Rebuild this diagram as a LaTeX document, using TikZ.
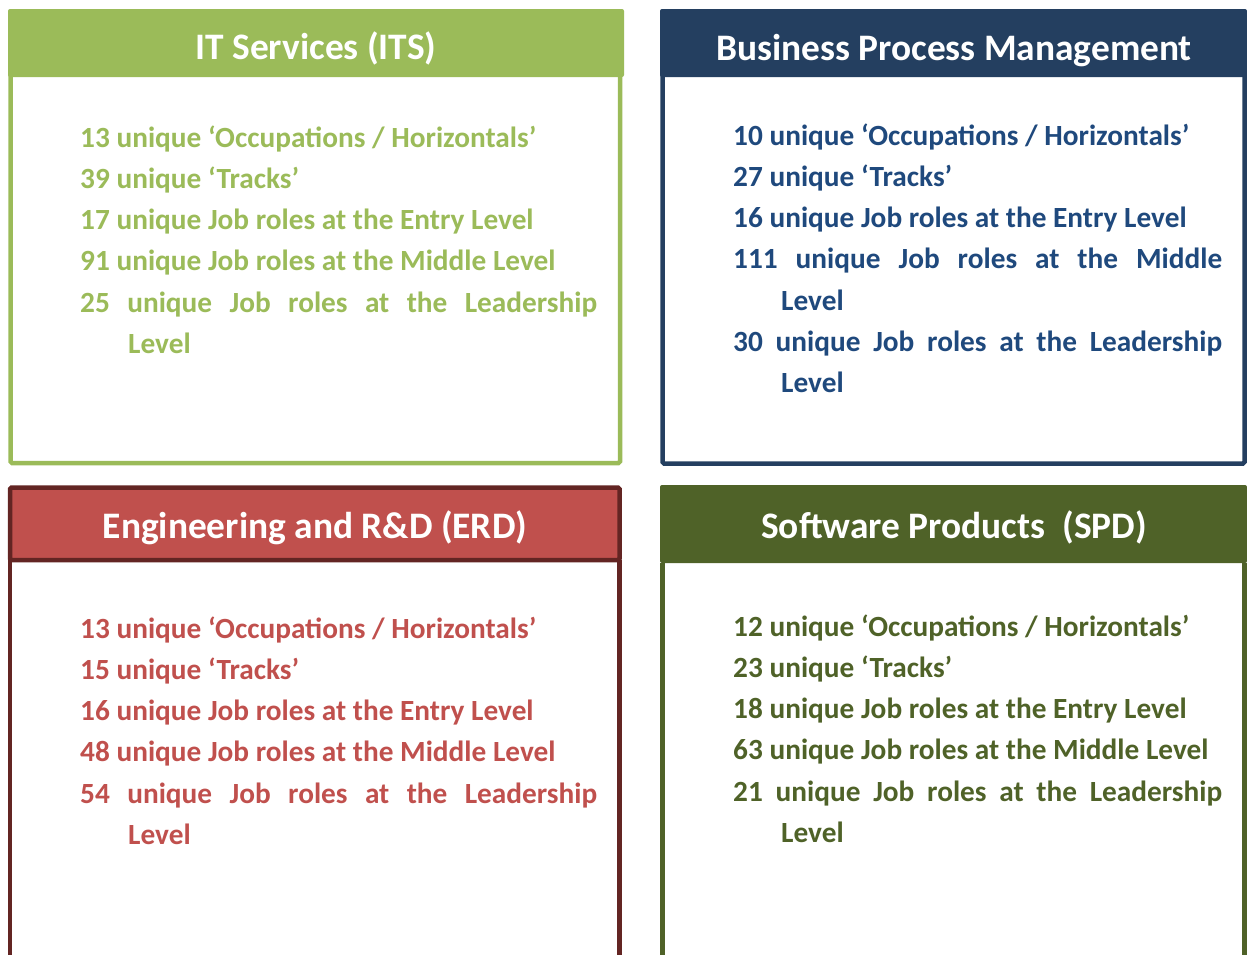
\documentclass[tikz,border=0pt]{standalone}
\usepackage{fontspec}
\setmainfont{Carlito}
\usetikzlibrary{positioning}

\definecolor{itsgreen}{HTML}{9BBB59}
\definecolor{bpmblue}{HTML}{243F60}
\definecolor{bpmtext}{HTML}{1F497D}
\definecolor{erdred}{HTML}{C0504D}
\definecolor{erddark}{HTML}{632523}
\definecolor{spdolive}{HTML}{4F6228}

\tolerance=10000
\newcommand\roleline[1]{\hangindent=48pt\hangafter=1 #1\par}

\begin{document}
\begin{tikzpicture}[x=1pt,y=-1pt,
	head/.style={font=\bfseries\fontsize{37.4}{45}\selectfont, text=white, anchor=base, inner sep=0pt},
	facts/.style={font=\bfseries\fontsize{29.3}{41.3}\selectfont, anchor=base west, inner sep=0pt, align=justify},
	frame/.style={line width=4.5pt, rounded corners=1.5pt}]
	\useasboundingbox (0,0) rectangle (1247,954);

	% IT services
	\draw [frame, draw=itsgreen, fill=white] (10.5,70) rectangle (620,463);
	\fill [itsgreen, rounded corners=2pt] (8,9) rectangle (624,77);
	\node [head] (its) at (316,59) {IT Services (ITS)};
	\node [facts, text=itsgreen, text width=517pt] (itsfacts) at (80,147) {%
		\roleline{13 unique ‘Occupations / Horizontals’}
		\roleline{39 unique ‘Tracks’}
		\roleline{17 unique Job roles at the Entry Level}
		\roleline{91 unique Job roles at the Middle Level}
		\roleline{25 unique Job roles at the Leadership\linebreak Level}};

	% business process management
	\draw [frame, draw=bpmblue, fill=white] (662.5,70) rectangle (1244.5,463.5);
	\fill [bpmblue, rounded corners=2pt] (660,9) rectangle (1247,77);
	\node [head] (bpm) at (954,60) {Business Process Management};
	\node [facts, text=bpmtext, text width=489pt] (bpmfacts) at (733,145) {%
		\roleline{10 unique ‘Occupations / Horizontals’}
		\roleline{27 unique ‘Tracks’}
		\roleline{16 unique Job roles at the Entry Level}
		\roleline{111 unique Job roles at the Middle\linebreak Level}
		\roleline{30 unique Job roles at the Leadership\linebreak Level}};

	% engineering and R&D
	\draw [frame, draw=erddark] (10,560) -- (10,960) (619.5,560) -- (619.5,960);
	\draw [line width=4.5pt, draw=erddark, fill=erdred, rounded corners=1.5pt] (10,487.5) rectangle (619.5,560);
	\node [head] (erd) at (315,538) {Engineering and R\&D (ERD)};
	\node [facts, text=erdred, text width=517pt] (erdfacts) at (80,638) {%
		\roleline{13 unique ‘Occupations / Horizontals’}
		\roleline{15 unique ‘Tracks’}
		\roleline{16 unique Job roles at the Entry Level}
		\roleline{48 unique Job roles at the Middle Level}
		\roleline{54 unique Job roles at the Leadership\linebreak Level}};

	% software products
	\draw [frame, draw=spdolive] (662.5,563) -- (662.5,960) (1244.5,563) -- (1244.5,960);
	\fill [spdolive, rounded corners=2pt] (660,485) rectangle (1247,563);
	\node [head] (spd) at (954,538) {Software Products~ (SPD)};
	\node [facts, text=spdolive, text width=489pt] (spdfacts) at (733,636) {%
		\roleline{12 unique ‘Occupations / Horizontals’}
		\roleline{23 unique ‘Tracks’}
		\roleline{18 unique Job roles at the Entry Level}
		\roleline{63 unique Job roles at the Middle Level}
		\roleline{21 unique Job roles at the Leadership\linebreak Level}};
\end{tikzpicture}
\end{document}
